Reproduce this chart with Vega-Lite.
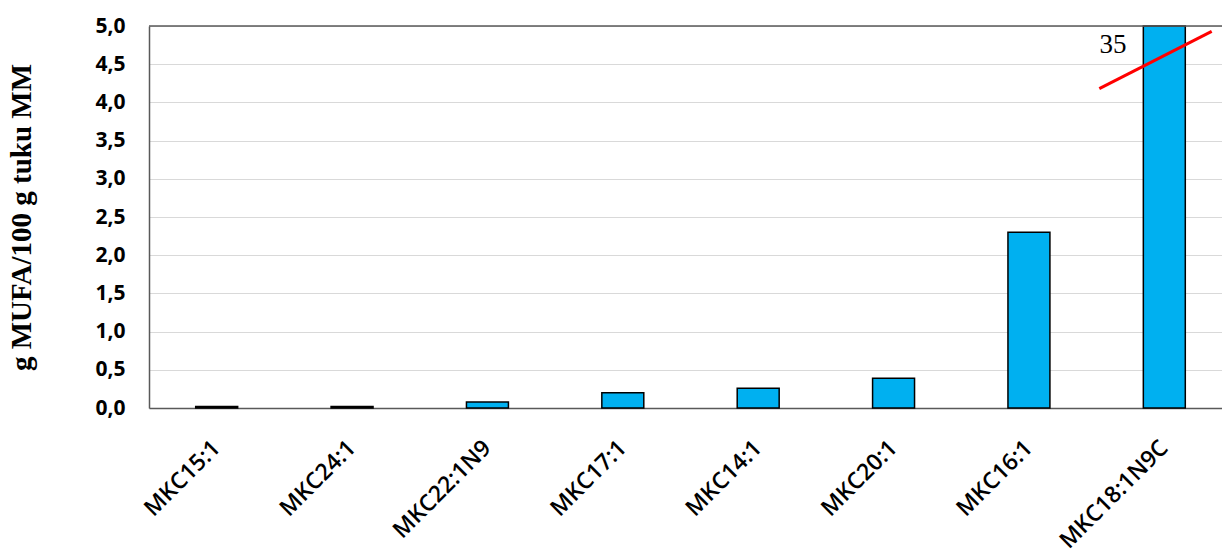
{
  "$schema": "https://vega.github.io/schema/vega-lite/v6.json",
  "width": 1083,
  "height": 382,
  "autosize": {"type": "none"},
  "padding": {"left": 149, "top": 26, "right": 0, "bottom": 151},
  "background": "white",
  "config": {
    "view": {"stroke": null},
    "axisY": {
      "titleFont": "Liberation Serif", "titleFontSize": 29, "titleFontWeight": "bold", "titleColor": "#000000",
      "titlePadding": 58,
      "labelFont": "Open Sans", "labelFontSize": 21, "labelFontWeight": "bold", "labelColor": "#000000",
      "labelPadding": 24, "ticks": false, "labelOverlap": false,
      "domainColor": "#595959", "domainWidth": 1.5,
      "grid": true, "gridColor": "#d9d9d9", "gridWidth": 1
    }
  },
  "datasets": {
    "bars": [
      {"cat": "MKC15:1", "value": 0.02},
      {"cat": "MKC24:1", "value": 0.02},
      {"cat": "MKC22:1N9", "value": 0.08},
      {"cat": "MKC17:1", "value": 0.2},
      {"cat": "MKC14:1", "value": 0.26},
      {"cat": "MKC20:1", "value": 0.39},
      {"cat": "MKC16:1", "value": 2.3},
      {"cat": "MKC18:1N9C", "value": 35}
    ],
    "breakline": [
      {"xv": 7.02, "yv": 4.18},
      {"xv": 7.85, "yv": 4.93}
    ],
    "note": [
      {"xv": 7.22, "yv": 4.75, "text": "35"}
    ]
  },
  "resolve": {"scale": {"x": "independent"}},
  "layer": [
    {
      "data": {"name": "bars"},
      "mark": {"type": "bar", "fill": "#00B0F0", "stroke": "#000000", "strokeWidth": 1.5},
      "encoding": {
        "x": {
          "field": "cat", "type": "nominal", "sort": null,
          "scale": {"paddingInner": 0.69, "paddingOuter": 0.345},
          "axis": {
            "title": null, "labelAngle": -45, "labelAlign": "right", "labelBaseline": "middle",
            "labelFont": "Open Sans", "labelFontSize": 23, "labelFontWeight": 600, "labelColor": "#000000",
            "labelPadding": 36, "ticks": false, "domainColor": "#595959", "domainWidth": 1.5,
            "grid": false, "labelOverlap": false
          }
        },
        "y": {
          "field": "value", "type": "quantitative",
          "scale": {"domain": [0, 5], "clamp": true, "nice": false},
          "axis": {
            "title": "g MUFA/100 g tuku MM",
            "values": [0, 0.5, 1, 1.5, 2, 2.5, 3, 3.5, 4, 4.5, 5],
            "labelExpr": "replace(format(datum.value, '.1f'), '.', ',')"
          }
        }
      }
    },
    {
      "data": {"values": [{"top": 5}]},
      "mark": {"type": "rule", "color": "#595959", "strokeWidth": 1.5},
      "encoding": {"y": {"field": "top", "type": "quantitative",
        "axis": {
          "title": "g MUFA/100 g tuku MM",
          "values": [0, 0.5, 1, 1.5, 2, 2.5, 3, 3.5, 4, 4.5, 5],
          "labelExpr": "replace(format(datum.value, '.1f'), '.', ',')"
        }}}
    },
    {
      "data": {"name": "breakline"},
      "mark": {"type": "line", "color": "#FF0000", "strokeWidth": 3},
      "encoding": {
        "x": {"field": "xv", "type": "quantitative", "scale": {"domain": [0, 8], "nice": false}, "axis": null},
        "y": {"field": "yv", "type": "quantitative",
          "axis": {
            "title": "g MUFA/100 g tuku MM",
            "values": [0, 0.5, 1, 1.5, 2, 2.5, 3, 3.5, 4, 4.5, 5],
            "labelExpr": "replace(format(datum.value, '.1f'), '.', ',')"
          }}
      }
    },
    {
      "data": {"name": "note"},
      "mark": {"type": "text", "font": "Liberation Serif", "fontSize": 27, "align": "right", "baseline": "middle", "color": "#000000"},
      "encoding": {
        "x": {"field": "xv", "type": "quantitative", "scale": {"domain": [0, 8], "nice": false}, "axis": null},
        "y": {"field": "yv", "type": "quantitative",
          "axis": {
            "title": "g MUFA/100 g tuku MM",
            "values": [0, 0.5, 1, 1.5, 2, 2.5, 3, 3.5, 4, 4.5, 5],
            "labelExpr": "replace(format(datum.value, '.1f'), '.', ',')"
          }},
        "text": {"field": "text"}
      }
    }
  ]
}
